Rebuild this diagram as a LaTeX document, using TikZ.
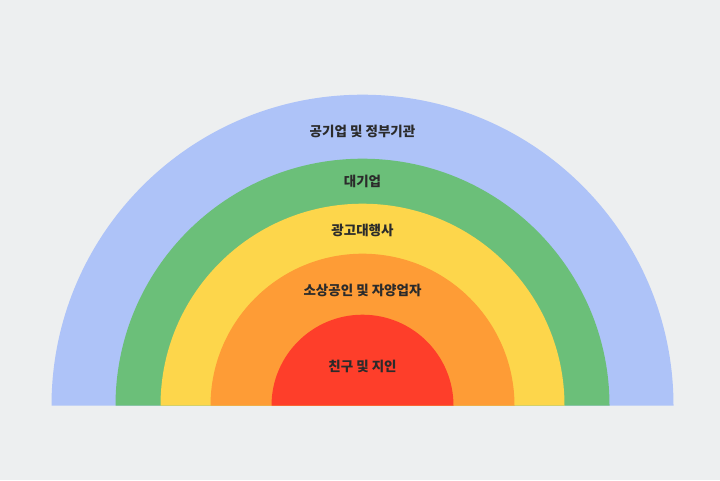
\documentclass[tikz,border=0pt]{standalone}
\usepackage{fontspec}
\newfontfamily\krfont{Noto Sans CJK KR}
\usetikzlibrary{positioning}
\definecolor{paper}{HTML}{EDEFF0}
\definecolor{ringblue}{HTML}{AEC3F8}
\definecolor{ringgreen}{HTML}{6BBF79}
\definecolor{ringyellow}{HTML}{FDD64B}
\definecolor{ringorange}{HTML}{FE9C36}
\definecolor{ringred}{HTML}{FE3E2A}
\definecolor{ink}{HTML}{2B2B2B}

\begin{document}
\begin{tikzpicture}[x=1pt, y=1pt,
		band/.style={draw=none},
		tier/.style={text=ink, font=\krfont\bfseries\fontsize{13.5}{16}\selectfont, inner sep=0pt}]
	% page
	\fill[paper] (0,0) rectangle (720,480);
	\useasboundingbox (0,0) rectangle (720,480);
	\coordinate (base) at (362.5,74.3);
	% bands, outside in
	\fill[band, ringblue] (base) ++(-311,0) arc[start angle=180, end angle=0, radius=311] -- cycle;
	\fill[band, ringgreen] (base) ++(-247,0) arc[start angle=180, end angle=0, radius=247] -- cycle;
	\fill[band, ringyellow] (base) ++(-202,0) arc[start angle=180, end angle=0, radius=202] -- cycle;
	\fill[band, ringorange] (base) ++(-152,0) arc[start angle=180, end angle=0, radius=152] -- cycle;
	\fill[band, ringred] (base) ++(-91,0) arc[start angle=180, end angle=0, radius=91] -- cycle;
	% labels
	\node[tier] (public) at (362.5,349) {공기업 및 정부기관};
	\node[tier] (large) at (362.5,299) {대기업};
	\node[tier] (agency) at (362.5,250) {광고대행사};
	\node[tier] (small) at (362.5,190) {소상공인 및 자양업자};
	\node[tier] (friends) at (362.5,114) {친구 및 지인};
\end{tikzpicture}
\end{document}
